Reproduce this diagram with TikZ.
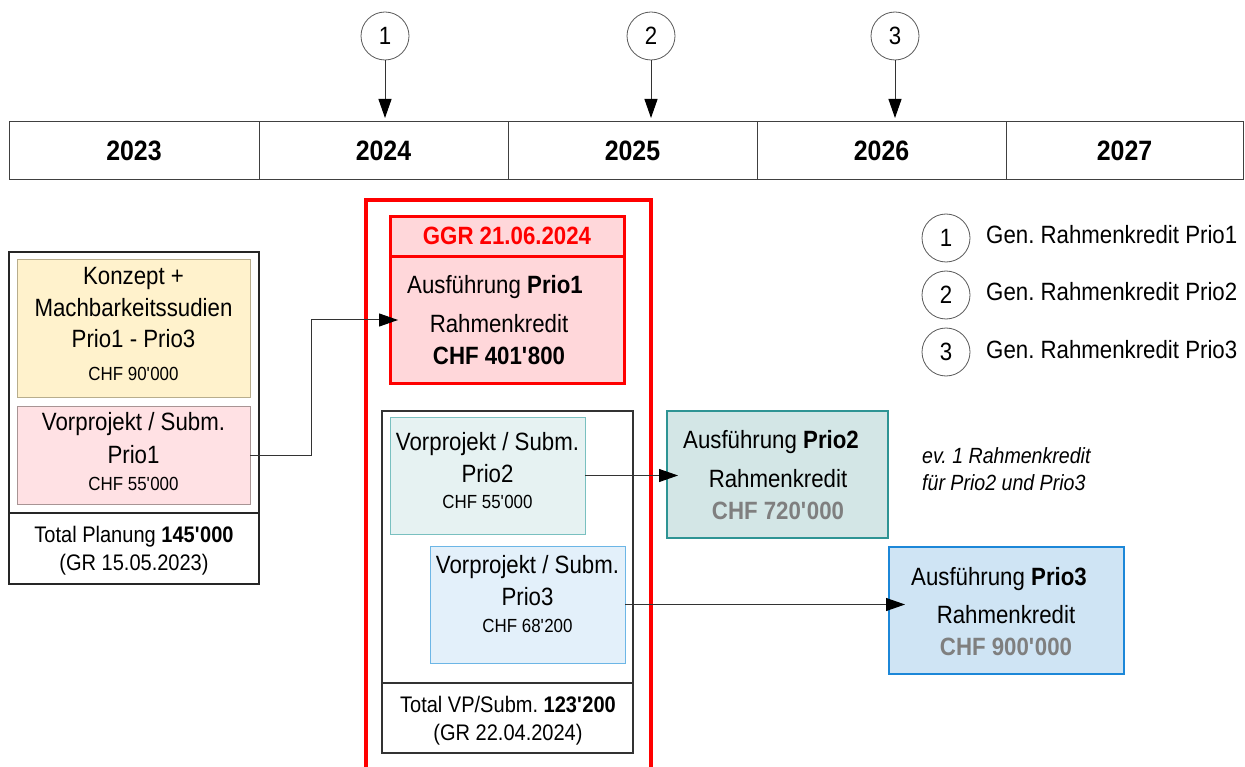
\documentclass[tikz,border=0pt]{standalone}
\usepackage{fontspec}
\setmainfont[FakeStretch=0.89]{Liberation Sans}
\usetikzlibrary{arrows.meta}
\frenchspacing
\newcommand\ap{\textquotesingle}
\definecolor{yelfill}{HTML}{FFF2CC}
\definecolor{yeldraw}{HTML}{B8AD8C}
\definecolor{pinkfill}{HTML}{FFE1E4}
\definecolor{pinkdraw}{HTML}{A89494}
\definecolor{redfill}{HTML}{FFD7DA}
\definecolor{tealfill}{HTML}{E6F2F2}
\definecolor{tealdraw}{HTML}{79C0C0}
\definecolor{bluefill}{HTML}{E3F0FA}
\definecolor{bluedraw}{HTML}{6CB6E6}
\definecolor{tealexfill}{HTML}{D3E6E6}
\definecolor{tealexdraw}{HTML}{2E9494}
\definecolor{blueexfill}{HTML}{CFE4F4}
\definecolor{blueexdraw}{HTML}{1C87D8}
\definecolor{graytxt}{HTML}{7F7F7F}
\definecolor{linegray}{HTML}{404040}
\begin{document}
\frenchspacing
\begin{tikzpicture}[x=1pt,y=-1pt,
  box/.style={draw, inner sep=0pt, outer sep=0pt},
  cell/.style={draw=linegray, line width=1pt, inner sep=0pt, outer sep=0pt, minimum height=58pt,
    font=\fontsize{28}{32}\selectfont\bfseries},
  txt/.style={anchor=base, inner sep=0pt, font=\fontsize{25}{30}\selectfont\frenchspacing},
  tot/.style={anchor=base, inner sep=0pt, font=\fontsize{22.5}{27}\selectfont\frenchspacing},
  sm/.style={anchor=base, inner sep=0pt, font=\fontsize{19}{23}\selectfont},
  itx/.style={anchor=base west, inner sep=0pt, font=\fontsize{22}{26}\selectfont\itshape\frenchspacing},
  circ/.style={circle, draw=black!65, line width=0.8pt, minimum size=48pt, inner sep=0pt,
    font=\fontsize{25}{28}\selectfont},
  arr/.style={draw=black!80, line width=1pt, -{Triangle[length=19pt,width=13pt,color=black]}}
]
\useasboundingbox (0,0) rectangle (1245,767);
\fill[white] (0,0) rectangle (1245,767);

% timeline
\node[cell, minimum width=250pt] (y2023) at (134,151) {2023};
\node[cell, minimum width=249pt] (y2024) at (383.5,151) {2024};
\node[cell, minimum width=249pt] (y2025) at (632.5,151) {2025};
\node[cell, minimum width=249pt] (y2026) at (881.5,151) {2026};
\node[cell, minimum width=237pt] (y2027) at (1124.5,151) {2027};

% top circles
\node[circ] (c1) at (385,36) {1};
\node[circ] (c2) at (651,36) {2};
\node[circ] (c3) at (895,36) {3};
\draw[arr] (c1.south) -- ([yshift=4pt]c1.south |- y2024.north);
\draw[arr] (c2.south) -- ([yshift=4pt]c2.south |- y2025.north);
\draw[arr] (c3.south) -- ([yshift=4pt]c3.south |- y2026.north);

% left block
\node[box, draw=black!85, line width=2pt, minimum width=250pt, minimum height=261pt] (lup) at (134,382.5) {};
\node[box, draw=black!85, line width=2pt, minimum width=250pt, minimum height=71pt] (llow) at (134,548.5) {};
\node[box, draw=yeldraw, fill=yelfill, line width=1pt, minimum width=233pt, minimum height=137pt] (konz) at (133.5,328.5) {};
\node[box, draw=pinkdraw, fill=pinkfill, line width=1pt, minimum width=233pt, minimum height=98pt] (vp1) at (133.5,455) {};
\node[txt] (k1) at (133.5,285) {Konzept +};
\node[txt] (k2) at (133.5,317) {Machbarkeitssudien};
\node[txt] (k3) at (133.5,348) {Prio1 - Prio3};
\node[sm] (k4) at (133.5,380) {CHF 90\ap000};
\node[txt] (v1a) at (133.5,430) {Vorprojekt / Subm.};
\node[txt] (v1b) at (133.5,463) {Prio1};
\node[sm] (v1c) at (133.5,490) {CHF 55\ap000};
\node[tot] (tp1) at (134,542) {Total Planung \textbf{145\ap000}};
\node[tot] (tp2) at (134,570) {(GR 15.05.2023)};

% big red frame
\draw[red, line width=3.5pt] (366,780) -- (366,200) -- (651,200) -- (651,780);

% Prio1 execution box
\node[box, draw=red, fill=redfill, line width=3pt, minimum width=234pt, minimum height=40pt] (ggr) at (507,237) {};
\node[box, draw=red, fill=redfill, line width=3pt, minimum width=234pt, minimum height=126pt] (p1body) at (507,320) {};
\node[txt, text=red, font=\fontsize{25}{30}\selectfont\bfseries] (ggrt) at (507,245) {GGR 21.06.2024};
\node[txt] (p1a) at (495,294) {Ausführung \textbf{Prio1}};
\node[txt] (p1b) at (499,333) {Rahmenkredit};
\node[txt, font=\fontsize{25}{30}\selectfont\bfseries] (p1c) at (499,364) {CHF 401\ap800};

% middle block
\node[box, draw=black!80, line width=1.5pt, minimum width=251pt, minimum height=272pt] (mup) at (507.5,547) {};
\node[box, draw=black!80, line width=1.5pt, minimum width=251pt, minimum height=70pt] (mlow) at (507.5,718) {};
\node[box, draw=tealdraw, fill=tealfill, line width=1pt, minimum width=195pt, minimum height=117pt] (vp2) at (487.5,475.5) {};
\node[box, draw=bluedraw, fill=bluefill, line width=1pt, minimum width=195pt, minimum height=117pt] (vp3) at (527.5,604.5) {};
\node[txt] (v2a) at (487.5,450) {Vorprojekt / Subm.};
\node[txt] (v2b) at (487.5,482) {Prio2};
\node[sm] (v2c) at (487.5,508) {CHF 55\ap000};
\node[txt] (v3a) at (527.5,573) {Vorprojekt / Subm.};
\node[txt] (v3b) at (527.5,605) {Prio3};
\node[sm] (v3c) at (527.5,632) {CHF 68\ap200};
\node[tot] (tv1) at (508,712) {Total VP/Subm. \textbf{123\ap200}};
\node[tot] (tv2) at (508,740) {(GR 22.04.2024)};

% Prio2 / Prio3 execution
\node[box, draw=tealexdraw, fill=tealexfill, line width=2.5pt, minimum width=221pt, minimum height=127pt] (ex2) at (777.5,474.5) {};
\node[txt] (e2a) at (771,448) {Ausführung \textbf{Prio2}};
\node[txt] (e2b) at (778,487) {Rahmenkredit};
\node[txt, text=graytxt, font=\fontsize{25}{30}\selectfont\bfseries] (e2c) at (778,519) {CHF 720\ap000};
\node[box, draw=blueexdraw, fill=blueexfill, line width=2.5pt, minimum width=235pt, minimum height=127pt] (ex3) at (1006.5,610.5) {};
\node[txt] (e3a) at (999,585) {Ausführung \textbf{Prio3}};
\node[txt] (e3b) at (1006,623) {Rahmenkredit};
\node[txt, text=graytxt, font=\fontsize{25}{30}\selectfont\bfseries] (e3c) at (1006,655) {CHF 900\ap000};

% note
\node[itx] (n1) at (922,463) {ev. 1 Rahmenkredit};
\node[itx] (n2) at (922,490) {für Prio2 und Prio3};

% legend
\node[circ] (l1) at (946,238) {1};
\node[circ] (l2) at (946,295) {2};
\node[circ] (l3) at (946,352) {3};
\node[txt, anchor=base west] (lt1) at (986,244) {Gen. Rahmenkredit Prio1};
\node[txt, anchor=base west] (lt2) at (986,301) {Gen. Rahmenkredit Prio2};
\node[txt, anchor=base west] (lt3) at (986,358) {Gen. Rahmenkredit Prio3};

% connectors
\draw[arr] (vp1.east) -- ([xshift=61pt]vp1.east) |- ([xshift=8pt]p1body.west);
\draw[arr] (vp2.east) -- ([xshift=11pt]vp2.east -| ex2.west);
\draw[arr] (vp3.east) -- ([xshift=16pt]vp3.east -| ex3.west);
\end{tikzpicture}
\end{document}
